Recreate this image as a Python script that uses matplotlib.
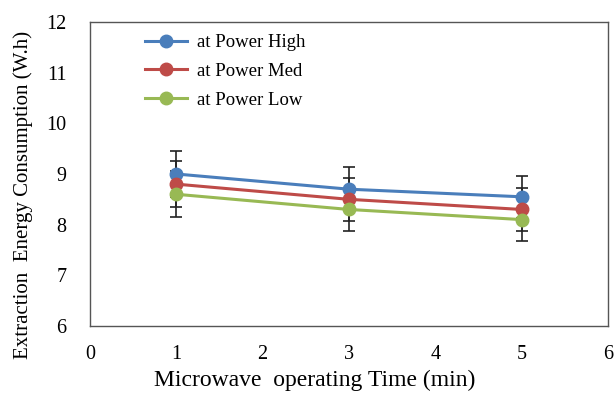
import matplotlib
matplotlib.use("Agg")
import matplotlib.pyplot as plt

plt.rcParams['font.family'] = ['Liberation Serif', 'DejaVu Serif']

time_min = [1, 3, 5]
power_high = [9.0, 8.7, 8.55]
power_med = [8.8, 8.5, 8.3]
power_low = [8.6, 8.3, 8.1]
err_high = [0.45, 0.43, 0.42]
err_med = [0.45, 0.43, 0.42]
err_low = [0.45, 0.43, 0.42]

labels = ['at Power High', 'at Power Med', 'at Power Low']
colors = ['#4a7ebb', '#be4b48', '#98b954']

fig = plt.figure(figsize=(6.14, 3.94), dpi=100)
ax = fig.add_axes([90 / 614, 1 - 326 / 394, 518 / 614, 304 / 394])

series = [power_high, power_med, power_low]
errs = [err_high, err_med, err_low]
for y, e, c, lab in zip(series, errs, colors, labels):
    ax.errorbar(time_min, y, yerr=e, fmt='none', ecolor='#222222',
                elinewidth=1.2, capsize=4, capthick=1.2, zorder=2)
    ax.plot(time_min, y, color=c, lw=2.2, marker='o', ms=9, label=lab, zorder=3)

ax.set_xlim(0, 6)
ax.set_ylim(6, 12)
ax.set_xticks(range(0, 7))
ax.set_yticks(range(6, 13))
ax.tick_params(length=0, labelsize=14.5)
ax.tick_params(axis='y', pad=17)
ax.tick_params(axis='x', pad=14)
for s in ax.spines.values():
    s.set_color('#555555')
    s.set_linewidth(1)

ax.set_xlabel('Microwave  operating Time (min)', fontsize=17)
ax.set_ylabel('Extraction  Energy Consumption (W.h)', fontsize=15)
ax.xaxis.set_label_coords(0.434, -0.145)
ax.yaxis.set_label_coords(-0.11, 0.43)

ax.legend(loc='upper left', bbox_to_anchor=(0.107, 0.96), frameon=False,
          fontsize=13.5, handlelength=2.2, handletextpad=0.55,
          labelspacing=0.62, borderpad=0, borderaxespad=0)

fig.savefig('out.png', dpi=100)
